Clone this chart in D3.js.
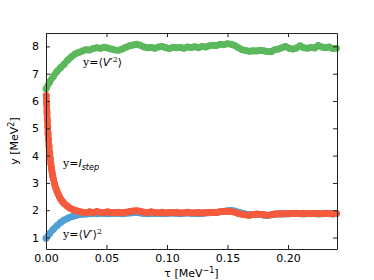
<!DOCTYPE html>
<html>
<head>
<meta charset="utf-8">
<script src="https://cdn.jsdelivr.net/npm/d3@7"></script>
<style>
  body { margin: 0; background: #fff; }
  svg text { font-family: "DejaVu Sans", sans-serif; }
  .lbl { font-family: "DejaVu Serif", serif; font-size: 11px; }
</style>
</head>
<body>
<div id="chart"></div>
<script>
// shared tau grid for the green and blue series
var tau = [0, 0.003, 0.006, 0.009, 0.012, 0.015, 0.018, 0.021, 0.024, 0.027,
  0.03, 0.033, 0.036, 0.039, 0.042, 0.045, 0.048, 0.051, 0.054, 0.057,
  0.06, 0.063, 0.066, 0.069, 0.072, 0.075, 0.078, 0.081, 0.084, 0.087,
  0.09, 0.093, 0.096, 0.099, 0.102, 0.105, 0.108, 0.111, 0.114, 0.117,
  0.12, 0.123, 0.126, 0.129, 0.132, 0.135, 0.138, 0.141, 0.144, 0.147,
  0.15, 0.153, 0.156, 0.159, 0.162, 0.165, 0.168, 0.171, 0.174, 0.177,
  0.18, 0.183, 0.186, 0.189, 0.192, 0.195, 0.198, 0.201, 0.204, 0.207,
  0.21, 0.213, 0.216, 0.219, 0.222, 0.225, 0.228, 0.231, 0.234, 0.237, 0.24];

// <V'^2>
var v2mean = [6.45, 6.7, 6.9, 7.08, 7.22, 7.35, 7.5, 7.62, 7.72, 7.78,
  7.83, 7.88, 7.87, 7.92, 7.95, 7.93, 7.97, 7.94, 7.9, 7.87,
  7.86, 7.9, 7.97, 8.02, 8.05, 8.08, 8.04, 7.98, 7.95, 7.96,
  7.93, 7.98, 8.0, 7.95, 7.92, 7.97, 7.95, 7.96, 7.93, 7.98,
  7.96, 7.99, 7.95, 8.0, 7.98, 8.02, 8.04, 8.03, 8.08, 8.06,
  8.1, 8.08, 8.03, 7.95, 7.88, 7.85, 7.82, 7.84, 7.83, 7.86,
  7.84, 7.81, 7.8, 7.88, 7.9, 7.95, 8.0, 7.93, 7.9, 7.94,
  8.02, 7.95, 7.93, 7.96, 7.94, 8.03, 7.98, 7.95, 7.98, 7.92, 7.93];

// <V'>^2
var vmean2 = [0.97, 1.15, 1.3, 1.43, 1.55, 1.64, 1.71, 1.76, 1.8, 1.83,
  1.85, 1.86, 1.87, 1.88, 1.87, 1.89, 1.88, 1.87, 1.88, 1.89,
  1.88, 1.87, 1.89, 1.9, 1.91, 1.92, 1.9, 1.88, 1.87, 1.88,
  1.89, 1.88, 1.87, 1.88, 1.89, 1.9, 1.88, 1.87, 1.89, 1.9,
  1.89, 1.88, 1.87, 1.89, 1.9, 1.91, 1.92, 1.93, 1.94, 1.96,
  1.98, 1.99, 1.97, 1.93, 1.89, 1.86, 1.84, 1.84, 1.85, 1.84,
  1.82, 1.81, 1.83, 1.85, 1.86, 1.87, 1.86, 1.87, 1.88, 1.89,
  1.87, 1.86, 1.87, 1.88, 1.87, 1.86, 1.87, 1.88, 1.87, 1.86, 1.87];

// I_step, denser sampling where it falls steeply
var stepTau = [0.0002, 0.0005, 0.0008, 0.0011, 0.0014, 0.0017, 0.002, 0.0025, 0.003, 0.0035,
  0.004, 0.0045, 0.005, 0.0055, 0.006, 0.007, 0.008, 0.009, 0.01, 0.011,
  0.012, 0.013, 0.014, 0.015, 0.017, 0.019, 0.021, 0.023, 0.025, 0.027,
  0.03, 0.033, 0.036, 0.039, 0.042, 0.045, 0.048, 0.051, 0.054, 0.057,
  0.06, 0.063, 0.066, 0.069, 0.072, 0.075, 0.078, 0.081, 0.084, 0.087,
  0.09, 0.093, 0.096, 0.099, 0.102, 0.105, 0.108, 0.111, 0.114, 0.117,
  0.12, 0.123, 0.126, 0.129, 0.132, 0.135, 0.138, 0.141, 0.144, 0.147,
  0.15, 0.153, 0.156, 0.159, 0.162, 0.165, 0.168, 0.171, 0.174, 0.177,
  0.18, 0.183, 0.186, 0.189, 0.192, 0.195, 0.198, 0.201, 0.204, 0.207,
  0.21, 0.213, 0.216, 0.219, 0.222, 0.225, 0.228, 0.231, 0.234, 0.237, 0.24];
var step = [6.2, 5.9, 5.6, 5.3, 5.05, 4.8, 4.6, 4.35, 4.1, 3.9,
  3.7, 3.55, 3.4, 3.27, 3.15, 2.98, 2.83, 2.7, 2.6, 2.5,
  2.42, 2.35, 2.3, 2.25, 2.17, 2.1, 2.05, 2.01, 1.98, 1.96,
  1.93, 1.91, 1.94, 1.92, 1.95, 1.93, 1.92, 1.94, 1.91, 1.92,
  1.93, 1.91, 1.93, 1.95, 1.97, 1.98, 1.96, 1.93, 1.92, 1.94,
  1.92, 1.91, 1.93, 1.9, 1.92, 1.91, 1.93, 1.9, 1.91, 1.93,
  1.9, 1.91, 1.92, 1.9, 1.91, 1.92, 1.93, 1.92, 1.94, 1.95,
  1.96, 1.95, 1.93, 1.88, 1.85, 1.83, 1.81, 1.84, 1.86, 1.85,
  1.84, 1.82, 1.83, 1.86, 1.87, 1.86, 1.88, 1.87, 1.89, 1.88,
  1.87, 1.89, 1.88, 1.87, 1.89, 1.88, 1.87, 1.89, 1.88, 1.87, 1.88];

var xTicks = [0, 0.05, 0.10, 0.15, 0.20];
var yTicks = [1, 2, 3, 4, 5, 6, 7, 8];

var width = 374, height = 280;
var margin = { top: 33, right: 37, bottom: 31, left: 46 };
var iWidth = width - margin.left - margin.right,
  iHeight = height - margin.top - margin.bottom;

var xScale = d3.scaleLinear().domain([0, 0.2405]).range([0, iWidth]);
var yScale = d3.scaleLinear().domain([0.58, 8.49]).range([iHeight, 0]);

var svg = d3.select('#chart').append('svg')
  .attr('width', width)
  .attr('height', height);

var g = svg.append('g')
  .attr('transform', 'translate(' + margin.left + ',' + margin.top + ')');

function drawSeries(xs, ys, fill) {
  var s = g.append('g');
  // dense markers read as one thick band, so fill the gaps with a wide path
  s.append('path')
    .datum(ys)
    .attr('fill', 'none')
    .attr('stroke', fill)
    .attr('stroke-width', 6.5)
    .attr('stroke-linejoin', 'round')
    .attr('d', d3.line().x((d, i) => xScale(xs[i])).y(d => yScale(d)));
  s.selectAll('circle')
    .data(ys)
    .enter()
    .append('circle')
      .attr('cx', (d, i) => xScale(xs[i]))
      .attr('cy', d => yScale(d))
      .attr('r', 3.5)
      .attr('fill', fill);
}

drawSeries(tau, v2mean, '#5cb85c');
drawSeries(tau, vmean2, '#4fa0d6');
drawSeries(stepTau, step, '#f55a3c');

// axes, ticks pointing inward on all four sides
var fmt = d3.format('.2f');
g.append('g')
  .attr('transform', 'translate(0,' + iHeight + ')')
  .call(d3.axisBottom(xScale).tickValues(xTicks).tickFormat(fmt).tickSizeInner(-4).tickSizeOuter(0).tickPadding(5));
g.append('g')
  .call(d3.axisTop(xScale).tickValues(xTicks).tickFormat('').tickSizeInner(-4).tickSizeOuter(0));
g.append('g')
  .call(d3.axisLeft(yScale).tickValues(yTicks).tickFormat(d3.format('d')).tickSizeInner(-4).tickSizeOuter(0).tickPadding(7));
g.append('g')
  .attr('transform', 'translate(' + iWidth + ',0)')
  .call(d3.axisRight(yScale).tickValues(yTicks).tickFormat('').tickSizeInner(-4).tickSizeOuter(0));

g.selectAll('.domain').attr('stroke', '#222').attr('stroke-width', 1);
g.selectAll('.tick line').attr('stroke', '#222');
g.selectAll('.tick text').attr('font-size', 11).attr('fill', '#000')
  .attr('font-family', '"DejaVu Sans", sans-serif');

// axis labels
svg.append('text')
  .attr('x', margin.left + iWidth / 2)
  .attr('y', 277)
  .attr('text-anchor', 'middle')
  .attr('font-size', 11)
  .html('τ [MeV<tspan dy="-4" font-size="8">−1</tspan><tspan dy="4">]</tspan>');

svg.append('text')
  .attr('transform', 'translate(18,' + (margin.top + iHeight / 2) + ') rotate(-90)')
  .attr('text-anchor', 'middle')
  .attr('font-size', 11)
  .html('y [MeV<tspan dy="-4" font-size="8">2</tspan><tspan dy="4">]</tspan>');

// curve annotations
svg.append('text').attr('class', 'lbl').attr('x', 83).attr('y', 66)
  .html('y=⟨<tspan font-family="DejaVu Sans" font-style="italic">V</tspan>′<tspan dy="-4" font-size="8">2</tspan><tspan dy="4">⟩</tspan>');

svg.append('text').attr('class', 'lbl').attr('x', 63).attr('y', 167)
  .html('y=<tspan font-family="DejaVu Sans" font-style="italic">I</tspan><tspan dy="3" font-size="8" font-family="DejaVu Sans" font-style="italic">step</tspan>');

svg.append('text').attr('class', 'lbl').attr('x', 63).attr('y', 238)
  .html('y=⟨<tspan font-family="DejaVu Sans" font-style="italic">V</tspan>′⟩<tspan dy="-4" font-size="8">2</tspan>');
</script>
</body>
</html>
